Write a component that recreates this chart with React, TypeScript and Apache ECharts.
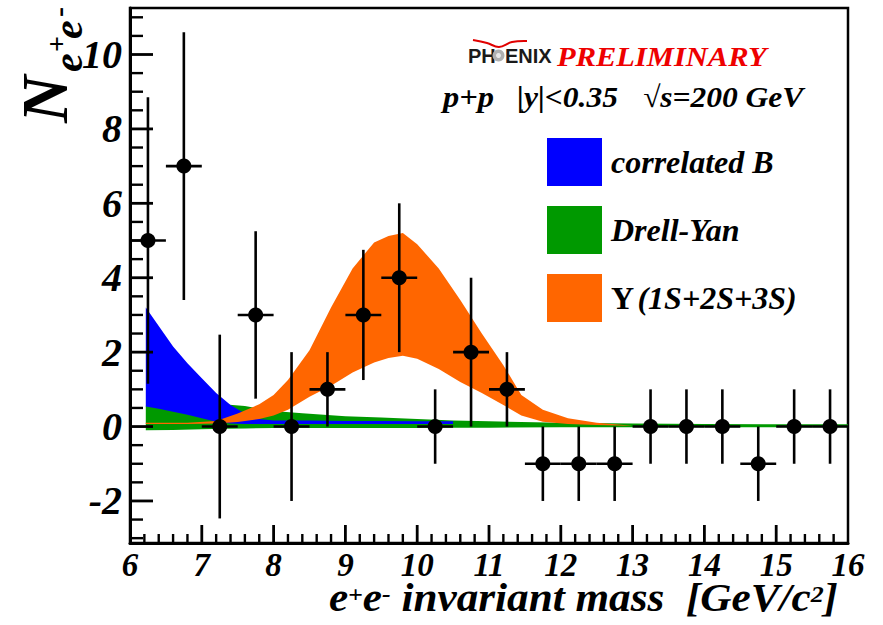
import React, { useEffect, useRef } from "react";
import * as echarts from "echarts";

// ---- measured data points (e+e- pairs per 0.5 GeV bin) ----
const massBins = [6.25, 6.75, 7.25, 7.75, 8.25, 8.75, 9.25, 9.75, 10.25, 10.75, 11.25, 11.75, 12.25, 12.75, 13.25, 13.75, 14.25, 14.75, 15.25, 15.75];
const counts = [5, 7, 0, 3, 0, 1, 3, 4, 0, 2, 1, -1, -1, -1, 0, 0, 0, -1, 0, 0];
const countErrors = [3.85, 3.6, 2.47, 2.25, 2.0, 1.0, 1.75, 2.0, 1.0, 2.0, 1.0, 1, 1, 1, 1, 1, 1, 1, 1, 1];
const binHalfWidth = 0.25;

// ---- correlated B band ----
const bX = [6.22, 6.4, 6.6, 6.8, 7.0, 7.2, 7.4, 7.6, 7.8, 8.0, 8.5, 9.0, 9.5, 10.0, 10.5];
const bLow = [0.54, 0.48, 0.4, 0.32, 0.22, 0.13, 0.08, 0.07, 0.07, 0.07, 0.07, 0.07, 0.07, 0.07, 0.07];
const bHigh = [3.2, 2.7, 2.15, 1.7, 1.3, 0.9, 0.58, 0.35, 0.2, 0.16, 0.16, 0.15, 0.15, 0.14, 0.14];

// ---- Drell-Yan band ----
const dyX = [6.22, 6.6, 7.0, 7.3, 7.6, 8.0, 8.4, 9.0, 9.5, 10.0, 10.5, 11.0, 12.0, 13.0, 14.0, 15.0, 16.0];
const dyLow = [-0.1, -0.09, -0.07, -0.06, -0.05, -0.04, -0.04, -0.04, -0.04, -0.04, -0.03, -0.03, -0.02, -0.02, -0.02, -0.02, -0.02];
const dyHigh = [0.56, 0.58, 0.6, 0.6, 0.55, 0.42, 0.36, 0.28, 0.24, 0.2, 0.16, 0.14, 0.1, 0.08, 0.07, 0.06, 0.06];

// ---- Upsilon (1S+2S+3S) band ----
const upsX = [6.22, 6.8, 7.2, 7.5, 7.8, 8.0, 8.2, 8.5, 8.8, 9.1, 9.4, 9.6, 9.8, 10.0, 10.3, 10.6, 10.9, 11.2, 11.45, 11.75, 12.1, 12.5, 13.0];
const upsLow = [0.07, 0.07, 0.08, 0.12, 0.2, 0.3, 0.45, 0.8, 1.1, 1.45, 1.72, 1.84, 1.9, 1.82, 1.55, 1.2, 0.9, 0.58, 0.3, 0.13, 0.07, 0.04, 0.02];
const upsHigh = [0.1, 0.1, 0.15, 0.35, 0.6, 0.85, 1.25, 2.05, 3.2, 4.25, 4.95, 5.12, 5.2, 4.9, 4.25, 3.4, 2.5, 1.65, 0.85, 0.45, 0.22, 0.1, 0.02];

// ---- axes ----
const X_MIN = 6;
const X_MAX = 16;
const Y_MIN = -3.13;
const Y_MAX = 11.25;
const xMajorTicks = [7, 8, 9, 10, 11, 12, 13, 14, 15];
const xMinorTicks = [6.2, 6.4, 6.6, 6.8, 7.2, 7.4, 7.6, 7.8, 8.2, 8.4, 8.6, 8.8, 9.2, 9.4, 9.6, 9.8, 10.2, 10.4, 10.6, 10.8, 11.2, 11.4, 11.6, 11.8, 12.2, 12.4, 12.6, 12.8, 13.2, 13.4, 13.6, 13.8, 14.2, 14.4, 14.6, 14.8, 15.2, 15.4, 15.6, 15.8];
const yMajorTicks = [-2, 0, 2, 4, 6, 8, 10];
const yMinorTicks = [-3, -2.5, -1.5, -1, -0.5, 0.5, 1, 1.5, 2.5, 3, 3.5, 4.5, 5, 5.5, 6.5, 7, 7.5, 8.5, 9, 9.5, 10.5, 11];

const SERIF = "'Liberation Serif', 'Times New Roman', serif";
const BLUE = "#0000ff";
const GREEN = "#009900";
const ORANGE = "#ff6600";
const TICK = "#000";

function bandSeries(name: string, xs: number[], lo: number[], hi: number[], color: string) {
  return {
    type: "custom",
    name,
    itemStyle: { color },
    data: xs.map((x, i) => [x, lo[i], hi[i]]),
    encode: { x: 0, y: [1, 2] },
    renderItem: (params: any, api: any) => {
      if (params.dataIndex !== 0) return null;
      const up = xs.map((x, i) => api.coord([x, hi[i]]));
      const dn = xs.map((x, i) => api.coord([x, lo[i]])).reverse();
      return { type: "polygon", shape: { points: up.concat(dn) }, style: { fill: color } };
    },
  };
}

export default function App() {
  const ref = useRef<HTMLDivElement>(null);
  useEffect(() => {
    if (!ref.current) return;
    const chart = echarts.init(ref.current, null, { renderer: "svg" });
    const labelFont = { fontFamily: SERIF, fontWeight: "bold" as const, fontStyle: "italic" as const, color: "#000" };

    // tick marks as thin filled rectangles placed through the axis scales
    const tickRects = (api: any) => {
      const out: any[] = [];
      const addY = (v: number, len: number, w: number) => {
        const p = api.coord([X_MIN, v]);
        out.push({ type: "rect", shape: { x: p[0], y: p[1] - w / 2, width: len, height: w }, style: { fill: TICK } });
      };
      const addX = (v: number, len: number, w: number) => {
        const p = api.coord([v, Y_MIN]);
        out.push({ type: "rect", shape: { x: p[0] - w / 2, y: p[1] - len, width: w, height: len }, style: { fill: TICK } });
      };
      yMajorTicks.forEach((v) => addY(v, 23, 2.8));
      yMinorTicks.forEach((v) => addY(v, 13, 2.4));
      xMajorTicks.forEach((v) => addX(v, 18, 2.8));
      xMinorTicks.forEach((v) => addX(v, 9, 2.4));
      return out;
    };

    const option: any = {
      animation: false,
      grid: { left: 130, right: 35, top: 8, bottom: 82, show: true, borderColor: "#000", borderWidth: 2.5 },
      xAxis: {
        type: "value",
        min: X_MIN,
        max: X_MAX,
        interval: 1,
        axisLine: { show: true, onZero: false, lineStyle: { color: "#000", width: 3 } },
        axisTick: { show: false },
        minorTick: { show: false },
        axisLabel: { ...labelFont, fontSize: 33, lineHeight: 26, margin: 9, showMinLabel: true, showMaxLabel: true },
        splitLine: { show: false },
      },
      yAxis: {
        type: "value",
        min: Y_MIN,
        max: Y_MAX,
        position: "left",
        axisLine: { show: true, onZero: false, lineStyle: { color: "#000", width: 3 } },
        axisTick: { show: false },
        axisLabel: { ...labelFont, fontSize: 40, lineHeight: 30, margin: 8, customValues: yMajorTicks, padding: [18, 0, 0, 0] },
        splitLine: { show: false },
      },
      legend: {
        orient: "vertical",
        left: 547,
        top: 138,
        padding: 0,
        itemWidth: 55,
        itemHeight: 48,
        itemGap: 20,
        selectedMode: false,
        data: [
          { name: "correlated B", icon: "rect", itemStyle: { color: BLUE } },
          { name: "Drell-Yan", icon: "rect", itemStyle: { color: GREEN } },
          { name: "Y (1S+2S+3S)", icon: "rect", itemStyle: { color: ORANGE } },
        ],
        formatter: (name: string) => (name.startsWith("Y ") ? "{u|Y} {i|(1S+2S+3S)}" : "{i|" + name + "}"),
        textStyle: {
          padding: [0, 0, 0, 4],
          rich: {
            i: { fontFamily: SERIF, fontWeight: "bold", fontStyle: "italic", fontSize: 32, color: "#000" },
            u: { fontFamily: SERIF, fontWeight: "bold", fontStyle: "normal", fontSize: 32, color: "#000" },
          },
        },
      },
      graphic: [
        {
          type: "group",
          x: 0,
          y: 123,
          rotation: Math.PI / 2,
          children: [
            { type: "text", x: 0, y: 44, style: { text: "N", font: `italic bold 66px ${SERIF}`, fill: "#000", verticalAlign: "middle", align: "left" } },
            { type: "text", x: 51, y: 68, style: { text: "e", font: `italic bold 42px ${SERIF}`, fill: "#000", verticalAlign: "middle", align: "left" } },
            { type: "text", x: 71, y: 56, style: { text: "+", font: `bold 28px ${SERIF}`, fill: "#000", verticalAlign: "middle", align: "left" } },
            { type: "text", x: 84, y: 68, style: { text: "e", font: `italic bold 42px ${SERIF}`, fill: "#000", verticalAlign: "middle", align: "left" } },
            { type: "text", x: 106, y: 58, style: { text: "-", font: `bold 30px ${SERIF}`, fill: "#000", verticalAlign: "middle", align: "left" } },
          ],
        },
        {
          type: "polyline",
          shape: { points: [[473, 40], [487, 43], [499, 47], [512, 42], [527, 41]], smooth: 0.4 },
          style: { stroke: "#e00000", lineWidth: 2, fill: null },
        },
        { type: "text", x: 468, y: 56, style: { text: "PH", font: "bold 20px 'Liberation Sans', Arial, sans-serif", fill: "#1a1a1a", verticalAlign: "middle" } },
        { type: "circle", shape: { cx: 498.5, cy: 55.5, r: 6 }, style: { fill: "#b0b0b0" } },
        { type: "circle", shape: { cx: 498.5, cy: 55.5, r: 2.5 }, style: { fill: "#e8e8e8" } },
        { type: "text", x: 505, y: 56, style: { text: "ENIX", font: "bold 20px 'Liberation Sans', Arial, sans-serif", fill: "#1a1a1a", verticalAlign: "middle" } },
        { type: "text", x: 557, y: 56, scaleX: 1.09, style: { text: "PRELIMINARY", font: `italic bold 28px ${SERIF}`, fill: "#ee0000", verticalAlign: "middle" } },
        { type: "text", x: 443, y: 97, scaleX: 1.08, style: { text: "p+p", font: `italic bold 30px ${SERIF}`, fill: "#000", verticalAlign: "middle" } },
        { type: "text", x: 517, y: 97, scaleX: 1.05, style: { text: "|y|<0.35", font: `italic bold 30px ${SERIF}`, fill: "#000", verticalAlign: "middle" } },
        { type: "text", x: 643, y: 97, scaleX: 1.05, style: { text: "\u221As=200 GeV", font: `italic bold 30px ${SERIF}`, fill: "#000", verticalAlign: "middle" } },
        {
          type: "text",
          x: 838,
          y: 598,
          scaleX: 1.08,
          originX: 0,
          style: {
            text: "{m|e}{s|+}{m|e}{s|-}{m| invariant mass  [GeV/c}{s|2}{m|]}",
            align: "right",
            verticalAlign: "middle",
            rich: {
              m: { fontFamily: SERIF, fontWeight: "bold", fontStyle: "italic", fontSize: 40, lineHeight: 32, fill: "#000" },
              s: { fontFamily: SERIF, fontWeight: "bold", fontStyle: "italic", fontSize: 24, lineHeight: 18, verticalAlign: "top", fill: "#000" },
            },
          },
        },
      ],
      series: [
        bandSeries("Drell-Yan", dyX, dyLow, dyHigh, GREEN),
        bandSeries("correlated B", bX, bLow, bHigh, BLUE),
        bandSeries("Y (1S+2S+3S)", upsX, upsLow, upsHigh, ORANGE),
        {
          type: "custom",
          name: "data",
          data: massBins.map((m, i) => [m, counts[i], countErrors[i]]),
          encode: { x: 0, y: 1 },
          renderItem: (params: any, api: any) => {
            const x = api.value(0);
            const y = api.value(1);
            const e = api.value(2);
            const c = api.coord([x, y]);
            const t = api.coord([x, y + e]);
            const b = api.coord([x, y - e]);
            const l = api.coord([x - binHalfWidth, y]);
            const r = api.coord([x + binHalfWidth, y]);
            const st = { stroke: "#000", lineWidth: 2.6 };
            const children: any[] = [
              { type: "line", shape: { x1: t[0], y1: t[1], x2: b[0], y2: b[1] }, style: st },
              { type: "line", shape: { x1: l[0], y1: l[1], x2: r[0], y2: r[1] }, style: st },
              { type: "circle", shape: { cx: c[0], cy: c[1], r: 7.5 }, style: { fill: "#000" } },
            ];
            const extra = params.dataIndex === 0 ? tickRects(api) : [];
            return { type: "group", children: children.concat(extra) };
          },
        },
      ],
    };
    chart.setOption(option);
    return () => chart.dispose();
  }, []);
  return <div ref={ref} style={{ width: 883, height: 625, position: "absolute", left: 0, top: 0 }} />;
}
